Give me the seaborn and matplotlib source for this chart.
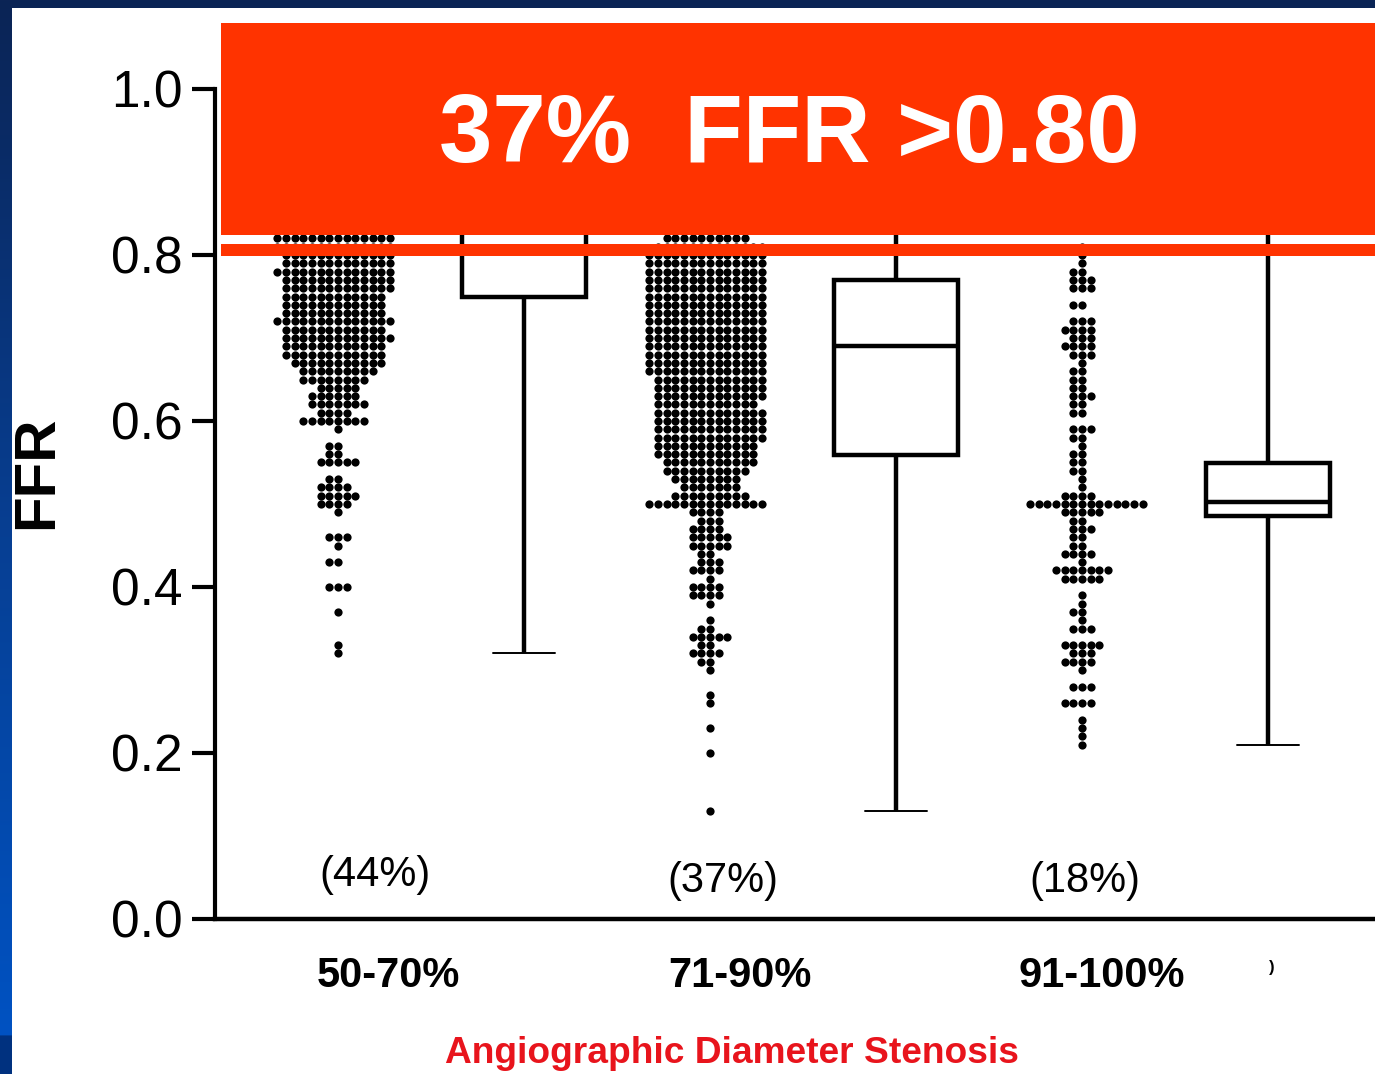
import numpy as np
import pandas as pd
import matplotlib
matplotlib.use("Agg")
import matplotlib.pyplot as plt
from matplotlib.patches import Rectangle
from matplotlib.colors import to_rgb
import seaborn as sns

# ---- data -----------------------------------------------------------------
groups = ["50-70%", "71-90%", "91-100%"]
group_share = ["(44%)", "(37%)", "(18%)"]

# FFR values (two decimals) and number of lesions at each value
ffr_50_70 = [0.32, 0.33, 0.37, 0.40, 0.43, 0.45, 0.46, 0.49,
             0.50, 0.51, 0.52, 0.53, 0.55, 0.56, 0.57, 0.59,
             0.60, 0.61, 0.62, 0.63, 0.64, 0.65, 0.66, 0.67, 0.68, 0.69,
             0.70, 0.71, 0.72, 0.73, 0.74, 0.75, 0.76, 0.77, 0.78, 0.79,
             0.80, 0.81, 0.82, 0.83, 0.84, 0.85, 0.86, 0.87, 0.88, 0.89,
             0.90, 0.92, 0.94, 0.96, 0.98]
n_50_70 = [1, 1, 1, 3, 2, 1, 3, 1,
           4, 5, 4, 2, 5, 2, 2, 1,
           8, 4, 7, 6, 5, 8, 9, 11, 12, 12,
           13, 12, 14, 12, 12, 12, 13, 13, 14, 13,
           13, 14, 14, 12, 12, 11, 10, 9, 8, 7,
           6, 5, 4, 3, 2]

ffr_71_90 = [0.13, 0.20, 0.23, 0.26, 0.27, 0.30, 0.31, 0.32, 0.33, 0.34,
             0.35, 0.36, 0.38, 0.39, 0.40, 0.41, 0.42, 0.43, 0.44, 0.45,
             0.46, 0.47, 0.48, 0.49, 0.50, 0.51, 0.52, 0.53, 0.54, 0.55,
             0.56, 0.57, 0.58, 0.59, 0.60, 0.61, 0.62, 0.63, 0.64, 0.65,
             0.66, 0.67, 0.68, 0.69, 0.70, 0.71, 0.72, 0.73, 0.74, 0.75,
             0.76, 0.77, 0.78, 0.79, 0.80, 0.81, 0.82, 0.83, 0.84, 0.85,
             0.86, 0.87, 0.88, 0.89, 0.90, 0.92, 0.94, 0.96]
n_71_90 = [1, 1, 1, 1, 1, 1, 2, 4, 2, 5,
           2, 1, 1, 4, 4, 1, 4, 3, 2, 5,
           5, 4, 3, 4, 14, 9, 7, 8, 10, 11,
           12, 12, 13, 13, 13, 13, 12, 13, 13, 13,
           14, 14, 14, 14, 14, 14, 14, 14, 14, 14,
           14, 14, 14, 14, 14, 13, 10, 9, 8, 7,
           6, 5, 4, 3, 3, 2, 2, 1]

ffr_91_100 = [0.21, 0.22, 0.23, 0.24, 0.26, 0.28, 0.30, 0.31, 0.32, 0.33,
              0.35, 0.36, 0.37, 0.38, 0.39, 0.41, 0.42, 0.43, 0.44, 0.45,
              0.46, 0.47, 0.48, 0.49, 0.50, 0.51, 0.52, 0.53, 0.54, 0.55,
              0.56, 0.57, 0.58, 0.59, 0.61, 0.62, 0.63, 0.64, 0.65, 0.66,
              0.67, 0.68, 0.69, 0.70, 0.71, 0.72, 0.74, 0.76, 0.77, 0.78,
              0.79, 0.80, 0.81, 0.84, 0.87, 0.90]
n_91_100 = [1, 1, 1, 1, 4, 3, 1, 4, 3, 5,
            3, 1, 2, 1, 1, 5, 7, 1, 4, 2,
            2, 3, 2, 5, 14, 4, 1, 1, 2, 2,
            2, 1, 2, 3, 2, 2, 3, 2, 2, 2,
            1, 3, 4, 3, 4, 3, 2, 3, 3, 2,
            1, 1, 1, 1, 1, 1]

# box-and-whisker summaries (min, Q1, median, Q3, max) per group
box_min = [0.32, 0.13, 0.21]
box_q1 = [0.75, 0.559, 0.486]
box_med = [0.81, 0.69, 0.502]
box_q3 = [0.88, 0.77, 0.549]
box_max = [1.00, 0.98, 0.95]

y_ticks = [0.0, 0.2, 0.4, 0.6, 0.8, 1.0]
y_tick_labels = ["0.0", "0.2", "0.4", "0.6", "0.8", "1.0"]

# ---- tables ---------------------------------------------------------------
box_slots = [g + " box" for g in groups]
slots = [s for pair in zip(groups, box_slots) for s in pair]

dots = pd.concat([
    pd.DataFrame({"slot": g, "ffr": np.repeat(v, n)})
    for g, v, n in zip(groups, [ffr_50_70, ffr_71_90, ffr_91_100],
                       [n_50_70, n_71_90, n_91_100])
], ignore_index=True)

boxes = pd.concat([
    pd.DataFrame({"slot": s, "ffr": [a, b, c, d, e]})
    for s, a, b, c, d, e in zip(box_slots, box_min, box_q1, box_med, box_q3, box_max)
], ignore_index=True)

# ---- figure ---------------------------------------------------------------
sns.set_style("white")
plt.rcParams["font.family"] = ["Liberation Sans", "DejaVu Sans"]

W, H = 1375, 1074
fig = plt.figure(figsize=(W / 100, H / 100), dpi=100)

# slide background: blue frame with white panel
bg = fig.add_axes([0, 0, 1, 1], zorder=-10)
bg.set_axis_off()
rows = np.linspace(0, 1, H)
stops = [0.0, 0.5, 0.964, 0.965, 1.0]
cols = np.array([to_rgb(c) for c in ["#0b2455", "#073f93", "#0052c2", "#00317f", "#00317f"]])
grad = np.stack([np.interp(rows, stops, cols[:, k]) for k in range(3)], axis=-1)[:, None, :]
bg.imshow(grad, aspect="auto", extent=[0, 1, 0, 1], origin="upper")
bg.add_patch(Rectangle((12 / W, 0), 1, 1 - 8 / H, transform=bg.transAxes,
                       facecolor="white", edgecolor="none"))
bg.set_xlim(0, 1)
bg.set_ylim(0, 1)

ax = fig.add_axes([215 / W, 155 / H, 1160 / W, 830 / H])
ax.set_facecolor("none")

sns.swarmplot(data=dots, x="slot", y="ffr", order=slots, color="black",
              size=5.93, linewidth=0, ax=ax, zorder=3)
sns.boxplot(data=boxes, x="slot", y="ffr", order=slots, whis=(0, 100),
            width=0.667, color="white", linecolor="black", linewidth=3.2,
            showfliers=False, capprops={"linewidth": 1.4}, ax=ax)

ax.set_xlim(-0.661, 5.575)
ax.set_ylim(0, 1.0)
ax.set_yticks(y_ticks)
ax.set_yticklabels(y_tick_labels)
ax.set_xticks([])
ax.set_xlabel("")
ax.tick_params(axis="y", left=True, length=16.5, width=3.0, direction="out",
               labelsize=37, pad=7, colors="black")
sns.despine(ax=ax)
ax.spines["left"].set_linewidth(3.0)
ax.spines["bottom"].set_linewidth(3.2)
ax.spines["left"].set_color("black")
ax.spines["bottom"].set_color("black")

ax.set_ylabel("FFR", fontsize=42, fontweight="bold", color="black")
ax.yaxis.set_label_coords(-0.130, 0.538)

# group shares inside the plot
for x, y, t in zip([0.2, 2.07, 4.016], [0.0396, 0.0323, 0.0323], group_share):
    ax.text(x, y, t, fontsize=30, ha="center", va="baseline", color="black")

# category labels under the axis
xt = ax.get_xaxis_transform()
for x, g in zip([0.269, 2.161, 4.108], groups):
    ax.text(x, -0.0819, g, transform=xt, fontsize=30, fontweight="bold",
            ha="center", va="baseline", color="black")
ax.text(5.02, -0.064, ")", transform=xt, fontsize=12, fontweight="bold",
        ha="center", va="baseline", color="black")

fig.text(732 / W, 1 - 1063 / H, "Angiographic Diameter Stenosis",
         fontsize=26.7, fontweight="bold", color="#e8141c",
         ha="center", va="baseline")

# red banner with its thin underline strip
red = "#ff3300"
fig.add_artist(Rectangle((221 / W, 1 - 235 / H), 1, (235 - 23) / H,
                         transform=fig.transFigure, facecolor=red,
                         edgecolor="none", zorder=5))
fig.add_artist(Rectangle((221 / W, 1 - 255.5 / H), 1, 11.5 / H,
                         transform=fig.transFigure, facecolor=red,
                         edgecolor="none", zorder=5))
fig.text(789 / W, 1 - 162 / H, "37%  FFR >0.80", fontsize=69,
         fontweight="bold", color="white", ha="center", va="baseline",
         zorder=6)

fig.savefig("out.png", dpi=100)
